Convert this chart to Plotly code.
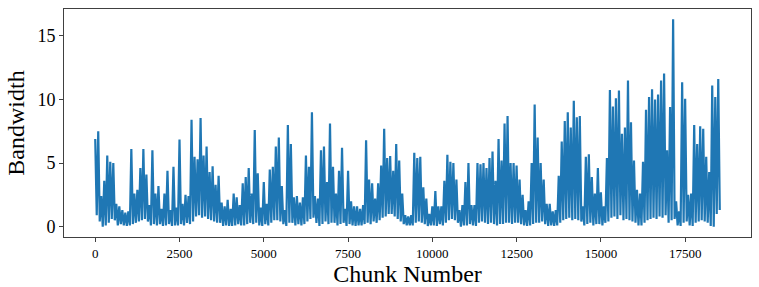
import numpy as np
import plotly.graph_objects as go

# Upper envelope (bin maxima), one value per ~89 chunks
hi = [
    6.9, 7.5, 2.4, 3.6, 5.6, 5.1, 5.0, 1.8, 1.6, 1.3,
    1.1, 1.2, 6.1, 2.6, 2.9, 4.6, 6.1, 4.1, 1.7, 6.0,
    2.6, 3.2, 1.4, 2.6, 4.4, 1.3, 4.7, 1.5, 6.85, 1.8,
    2.5, 2.4, 8.4, 5.5, 5.3, 8.55, 5.6, 6.3, 4.3, 4.75,
    3.3, 4.0, 1.9, 1.6, 2.1, 1.4, 2.6, 2.3, 1.7, 3.4,
    3.9, 4.6, 2.6, 7.6, 4.2, 1.5, 3.5, 1.8, 4.5, 4.7,
    6.3, 7.0, 3.2, 1.3, 8.0, 6.5, 2.3, 2.4, 1.9, 2.3,
    5.6, 4.7, 9.0, 2.4, 2.2, 6.0, 6.3, 3.5, 8.1, 4.7,
    2.6, 4.4, 6.2, 1.4, 4.4, 2.0, 1.6, 1.6, 1.4, 1.7,
    6.8, 3.7, 3.4, 2.2, 3.4, 4.8, 7.7, 5.4, 5.55, 4.4,
    6.5, 5.2, 2.6, 0.9, 0.8, 0.9, 5.8, 5.4, 5.5, 3.1,
    2.2, 1.0, 1.6, 2.8, 1.6, 1.6, 3.6, 5.65, 5.1, 5.0,
    3.7, 1.3, 1.7, 3.5, 5.0, 1.7, 1.7, 5.0, 4.9, 5.0,
    4.6, 5.4, 5.9, 3.6, 6.9, 5.2, 8.1, 8.7, 5.0, 5.0,
    4.8, 3.7, 2.5, 1.3, 2.0, 5.0, 9.6, 7.0, 5.0, 3.7,
    1.8, 1.8, 1.2, 1.3, 4.0, 6.7, 8.3, 9.0, 7.8, 9.9,
    8.6, 8.7, 1.6, 5.5, 5.7, 3.9, 2.6, 4.6, 2.7, 1.6,
    5.4, 10.75, 9.45, 10.1, 10.7, 7.3, 7.8, 11.5, 8.2, 5.2,
    2.9, 2.6, 5.1, 9.2, 10.2, 10.8, 10.0, 10.4, 11.5, 12.05,
    6.0, 9.4, 16.3, 2.0, 1.2, 11.35, 10.05, 2.5, 2.6, 8.0,
    6.5, 7.9, 7.7, 5.5, 4.3, 11.1, 10.2, 11.6,
]

# Lower envelope (bin minima)
lo = [
    0.9, 0.4, 0.0, 0.1, 0.3, 0.6, 0.5, 0.1, 0.2, 0.1,
    0.05, 0.1, 0.2, 0.3, 0.4, 0.5, 0.6, 0.4, 0.1, 0.2,
    0.1, 0.2, 0.05, 0.1, 0.2, 0.05, 0.1, 0.1, 0.2, 0.1,
    0.3, 0.2, 0.4, 0.8, 0.9, 0.7, 0.8, 0.6, 0.5, 0.4,
    0.3, 0.3, 0.05, 0.1, 0.05, 0.05, 0.1, 0.2, 0.1, 0.1,
    0.2, 0.3, 0.2, 0.3, 0.1, 0.05, 0.2, 0.1, 0.3, 0.5,
    0.5, 0.4, 0.2, 0.05, 0.3, 0.3, 0.1, 0.2, 0.1, 0.2,
    0.4, 0.6, 0.7, 0.3, 0.05, 0.2, 0.4, 0.2, 0.3, 0.3,
    0.1, 0.2, 0.3, 0.05, 0.2, 0.1, 0.05, 0.1, 0.1, 0.2,
    0.3, 0.2, 0.4, 0.3, 0.5, 0.7, 0.8, 1.0, 1.0, 0.8,
    0.6, 0.4, 0.2, 0.1, 0.1, 0.1, 0.3, 0.4, 0.3, 0.2,
    0.05, 0.1, 0.1, 0.05, 0.2, 0.1, 0.3, 0.5, 0.6, 0.5,
    0.3, 0.0, 0.1, 0.1, 0.2, 0.1, 0.05, 0.3, 0.4, 0.3,
    0.2, 0.3, 0.2, 0.1, 0.2, 0.2, 0.3, 0.3, 0.2, 0.3,
    0.3, 0.2, 0.1, 0.05, 0.1, 0.2, 0.3, 0.3, 0.4, 0.2,
    0.05, 0.1, 0.05, 0.1, 0.3, 0.5, 0.6, 0.7, 0.5, 0.6,
    0.5, 0.4, 0.1, 0.2, 0.3, 0.1, 0.2, 0.2, 0.1, 0.3,
    0.4, 0.7, 0.8, 0.6, 0.9, 0.5, 0.6, 0.5, 0.4, 0.3,
    0.1, 0.1, 0.3, 0.5, 0.6, 0.7, 0.6, 0.8, 0.7, 0.9,
    0.3, 0.5, 0.6, 0.1, 0.05, 0.3, 0.4, 0.1, 0.05, 0.3,
    0.4, 0.5, 0.4, 0.3, 0.05, 0.0, 1.0, 1.3,
]

x_ticks = [0, 2500, 5000, 7500, 10000, 12500, 15000, 17500]
y_ticks = [0, 5, 10, 15]
chunk_step = 44.64  # chunks between consecutive samples

bandwidth = []
for h, l in zip(hi, lo):
    bandwidth.extend([h, l])
chunks = np.round(np.arange(len(bandwidth)) * chunk_step)

FONT = "Liberation Serif"
AX = "#404040"

fig = go.Figure()
fig.add_trace(go.Scatter(x=chunks, y=bandwidth, mode="lines",
                         line=dict(color="#1f77b4", width=2.2),
                         hoverinfo="skip", showlegend=False))

xmax = float(chunks[-1])
ymax = max(bandwidth)
fig.update_layout(
    width=759, height=287,
    margin=dict(l=64, r=8, t=9, b=50),
    paper_bgcolor="white", plot_bgcolor="white",
    font=dict(family=FONT, color="black"),
    xaxis=dict(range=[-0.05 * xmax, 1.05 * xmax], tickvals=x_ticks,
               ticktext=[str(v) for v in x_ticks],
               showgrid=False, zeroline=False, showline=True, mirror=True,
               linecolor=AX, linewidth=1, ticks="outside", ticklen=4,
               tickcolor=AX, tickwidth=1, tickfont=dict(size=13, family=FONT),
               title=dict(text="Chunk Number", font=dict(size=24, family=FONT), standoff=2),
               automargin=False),
    yaxis=dict(range=[-0.05 * ymax, 1.05 * ymax], tickvals=y_ticks,
               showgrid=False, zeroline=False, showline=True, mirror=True,
               linecolor=AX, linewidth=1, ticks="outside", ticklen=4,
               tickcolor=AX, tickwidth=1, tickfont=dict(size=18, family=FONT),
               title=dict(text="Bandwidth", font=dict(size=24, family=FONT), standoff=6),
               automargin=False),
)
fig.write_html("out.html")
